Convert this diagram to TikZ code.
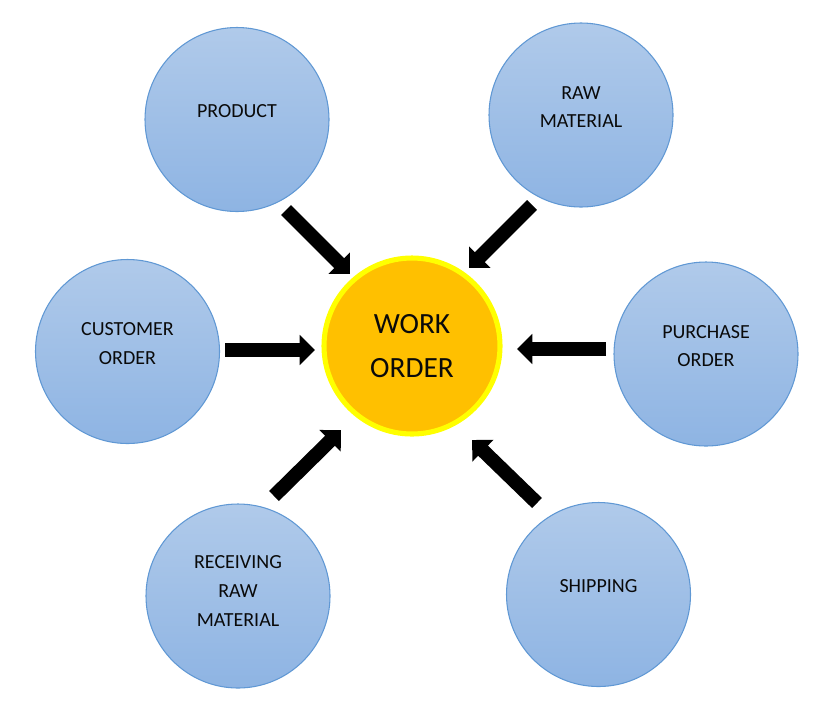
\documentclass[tikz,border=0pt]{standalone}
\usepackage{fontspec}
\setmainfont{Carlito}
\usetikzlibrary{arrows.meta}
\definecolor{bluetop}{RGB}{176,202,234}
\definecolor{bluebot}{RGB}{142,180,227}
\definecolor{blueedge}{RGB}{96,152,212}
\definecolor{gold}{RGB}{255,192,0}
\definecolor{ringyel}{RGB}{255,255,0}
\definecolor{txt}{RGB}{10,10,10}
\tikzset{
  topic/.style={circle, minimum size=138pt, inner sep=0pt, draw=blueedge, line width=0.8pt,
    top color=bluetop, bottom color=bluebot, text=txt, align=center,
    font=\fontsize{15pt}{21.5pt}\selectfont},
  lab/.style={text=txt, align=center, font=\fontsize{15pt}{21.5pt}\selectfont, yshift=6pt},
  hub/.style={circle, minimum size=132pt, inner sep=0pt, draw=ringyel, line width=3.8pt,
    fill=gold, text=txt, align=center, font=\fontsize{22pt}{32pt}\selectfont},
  feed/.style={line width=10.5pt, -{Triangle[width=22pt,length=11.5pt]}, black}
}
\begin{document}
\begin{tikzpicture}[x=0.75pt,y=-0.75pt]
\useasboundingbox (0,0) rectangle (834,726);
\node[hub] (work) at (412,346) {\raisebox{1pt}{WORK}\\ORDER};
\node[topic, label={[lab]center:PRODUCT}] (prod) at (237,119.5) {};
\node[topic, label={[lab]center:RAW\\MATERIAL}] (raw) at (581,115) {};
\node[topic, label={[lab]center:CUSTOMER\\ORDER}] (cust) at (127.5,351.5) {};
\node[topic, label={[lab]center:PURCHASE\\ORDER}] (purch) at (706,354) {};
\node[topic, label={[lab,yshift=-2.25pt]center:RECEIVING\\RAW\\MATERIAL}] (recv) at (238,596) {};
\node[topic, label={[lab]center:SHIPPING}] (ship) at (598.5,594.5) {};
% arrow ends
\coordinate (a1s) at (286,210);   \coordinate (a1e) at (350,274);
\coordinate (a2s) at (532,205);   \coordinate (a2e) at (469,268);
\coordinate (a3s) at (225,350);   \coordinate (a3e) at (315,350);
\coordinate (a4s) at (606,349);   \coordinate (a4e) at (517,349);
\coordinate (a5s) at (274,496);   \coordinate (a5e) at (341,430);
\coordinate (a6s) at (537,503);   \coordinate (a6e) at (472,440);
\draw[feed] (a1s) -- (a1e);
\draw[feed] (a2s) -- (a2e);
\draw[feed] (a3s) -- (a3e);
\draw[feed] (a4s) -- (a4e);
\draw[feed] (a5s) -- (a5e);
\draw[feed] (a6s) -- (a6e);
\end{tikzpicture}
\end{document}
